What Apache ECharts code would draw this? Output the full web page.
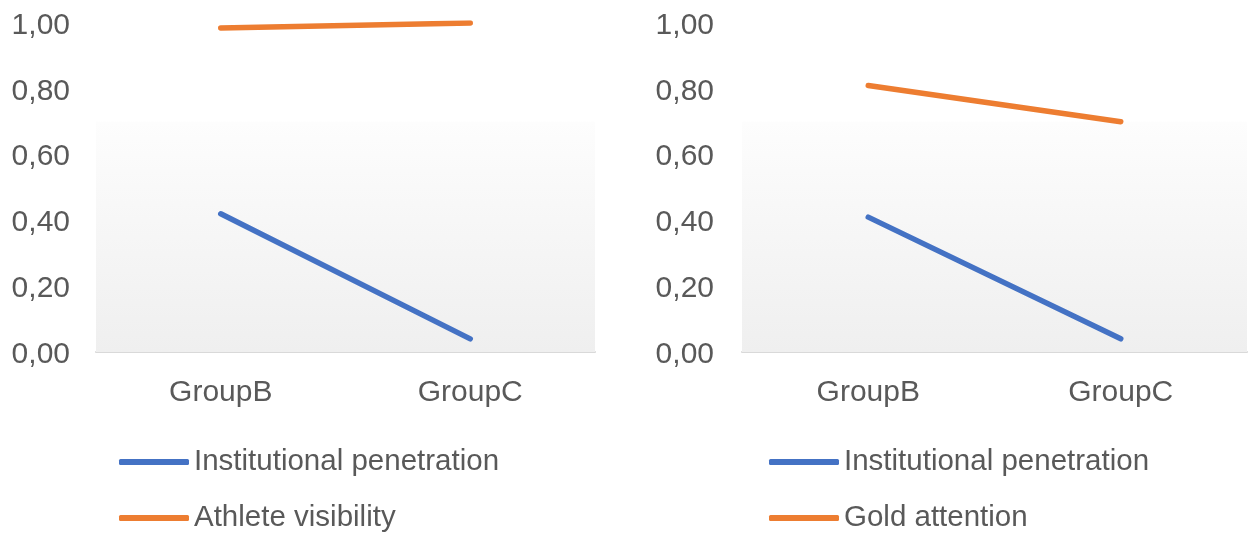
<!DOCTYPE html>
<html>
<head>
<meta charset="utf-8">
<script src="https://cdn.jsdelivr.net/npm/echarts@6/dist/echarts.min.js"></script>
<style>
  html, body { margin: 0; padding: 0; background: #ffffff; }
  #chart { width: 1250px; height: 539px; }
</style>
</head>
<body>
<div id="chart"></div>
<script>
// Categories shared by both panels
const categories = ['GroupB', 'GroupC'];

// Left panel
const leftInstitutional = [0.42, 0.04];
const athleteVisibility = [0.985, 1.00];

// Right panel
const rightInstitutional = [0.41, 0.04];
const goldAttention = [0.81, 0.70];

// Y axis ticks
const yTicks = [0, 0.2, 0.4, 0.6, 0.8, 1.0];

const BLUE = '#4472C4';
const ORANGE = '#ED7D31';
const TEXT = '#595959';
const FONT = '"Liberation Sans", Arial, sans-serif';
const FS = 30;
const SHADE_TOP = 0.7;

const fmt = v => '{v|' + v.toFixed(2).replace('.', ',') + '}';

function xAxis(gridIndex) {
  return {
    type: 'category', gridIndex, data: categories,
    axisLine: { lineStyle: { color: '#d9d9d9', width: 2 } },
    axisTick: { show: false },
    axisLabel: { color: TEXT, fontSize: FS, fontFamily: FONT, margin: 26 }
  };
}
function yAxis(gridIndex, margin) {
  return {
    type: 'value', gridIndex, min: yTicks[0], max: yTicks[yTicks.length - 1], interval: 0.2,
    axisLine: { show: false }, axisTick: { show: false }, splitLine: { show: false },
    axisLabel: {
      color: TEXT, fontSize: FS, fontFamily: FONT, margin, formatter: fmt,
      rich: { v: { color: TEXT, fontSize: FS, fontFamily: FONT, padding: [5, 0, 0, 0] } }
    }
  };
}
function shade(idx) {
  return {
    type: 'line', xAxisIndex: idx, yAxisIndex: idx, data: [], silent: true, z: 0,
    markArea: {
      silent: true,
      itemStyle: {
        color: { type: 'linear', x: 0, y: 0, x2: 0, y2: 1,
          colorStops: [{ offset: 0, color: '#fdfdfd' }, { offset: 1, color: '#efefef' }] }
      },
      data: [[{ yAxis: 0 }, { yAxis: SHADE_TOP }]]
    }
  };
}
function line(name, data, color, idx) {
  return {
    type: 'line', name, data, xAxisIndex: idx, yAxisIndex: idx, z: 3,
    showSymbol: false, symbol: 'none',
    lineStyle: { color, width: 5.5, cap: 'round' },
    itemStyle: { color }
  };
}
function legend(left, names) {
  return {
    orient: 'vertical', left, top: 447, padding: 0,
    data: names, itemWidth: 70, itemHeight: 6, itemGap: 26, icon: 'roundRect',
    textStyle: { color: TEXT, fontSize: 29.5, fontFamily: FONT, lineHeight: 30 }
  };
}

const chart = echarts.init(document.getElementById('chart'), null, { renderer: 'canvas' });
chart.setOption({
  animation: false,
  backgroundColor: '#ffffff',
  grid: [
    { left: 96, right: 655, top: 23, bottom: 187 },
    { left: 742, right: 3, top: 23, bottom: 187 }
  ],
  xAxis: [xAxis(0), xAxis(1)],
  yAxis: [yAxis(0, 26), yAxis(1, 28)],
  legend: [
    legend(119, ['Institutional penetration', 'Athlete visibility']),
    legend(769, ['Institutional penetration', 'Gold attention'])
  ],
  series: [
    shade(0), shade(1),
    line('Institutional penetration', leftInstitutional, BLUE, 0),
    line('Athlete visibility', athleteVisibility, ORANGE, 0),
    line('Institutional penetration', rightInstitutional, BLUE, 1),
    line('Gold attention', goldAttention, ORANGE, 1)
  ]
});
</script>
</body>
</html>
